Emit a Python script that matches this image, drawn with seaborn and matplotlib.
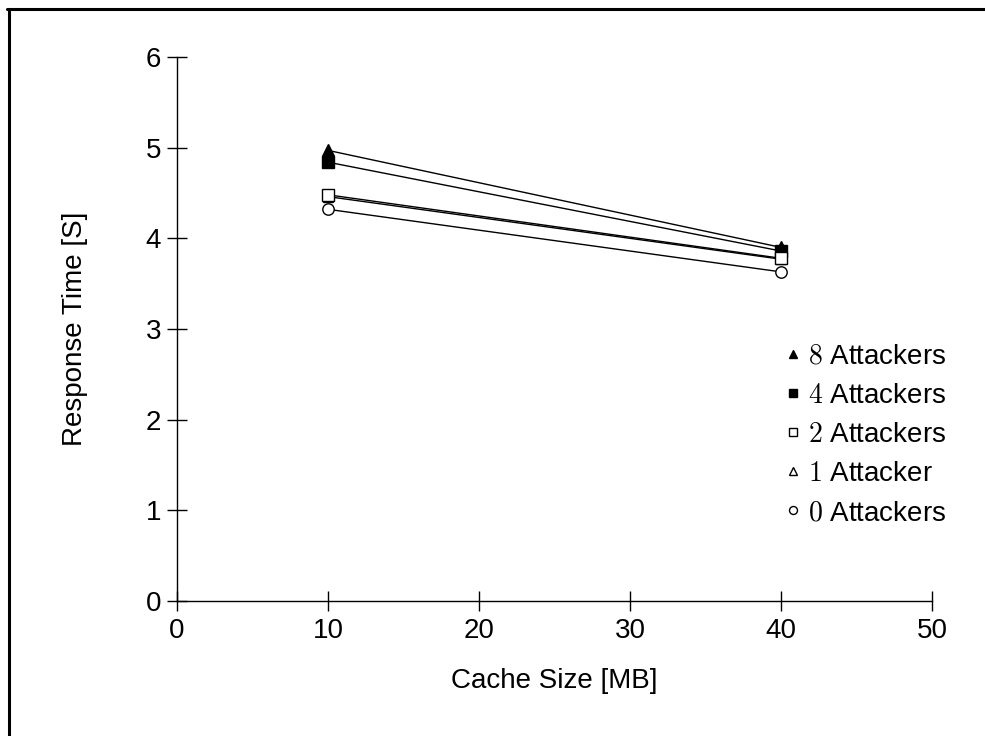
import matplotlib
matplotlib.use("Agg")
import matplotlib.pyplot as plt
import seaborn as sns
import pandas as pd
from matplotlib.lines import Line2D

cache_sizes = [10, 40]
series_names = ["$8$ Attackers", "$4$ Attackers", "$2$ Attackers", "$1$ Attacker", "$0$ Attackers"]
att8 = [4.97, 3.90]
att4 = [4.84, 3.86]
att2 = [4.48, 3.78]
att1 = [4.46, 3.77]
att0 = [4.32, 3.63]
x_ticks = [0, 10, 20, 30, 40, 50]
y_ticks = [0, 1, 2, 3, 4, 5, 6]

sns.set_theme(style="ticks")
plt.rcParams["font.family"] = ["Liberation Sans", "DejaVu Sans"]
plt.rcParams["mathtext.fontset"] = "cm"
for k in ["text.color", "axes.labelcolor", "xtick.color", "ytick.color", "axes.edgecolor"]:
    plt.rcParams[k] = "black"

FS = 20

fig = plt.figure(figsize=(9.85, 7.36), dpi=100)
ax = fig.add_axes([177/985, 1-601/736, (932-177)/985, (601-57)/736])

values = [att8, att4, att2, att1, att0]
markers = ["^", "s", "s", "^", "o"]
faces = ["black", "black", "white", "white", "white"]
sizes = [8.5, 8.2, 8.2, 7.5, 8.2]
draw_order = [0, 1, 3, 2, 4]
for i in draw_order:
    df = pd.DataFrame({"x": cache_sizes, "y": values[i]})
    sns.lineplot(data=df, x="x", y="y", ax=ax, color="black", linewidth=1.0,
                 marker=markers[i], markersize=sizes[i], markerfacecolor=faces[i],
                 markeredgecolor="black", markeredgewidth=1.0, zorder=3 + draw_order.index(i))

handles = [Line2D([], [], linestyle="none", marker=markers[i], markersize=sizes[i] * 0.7,
                  markerfacecolor=faces[i], markeredgecolor="black", markeredgewidth=1.0)
           for i in range(5)]
ax.legend(handles, series_names, loc="center right", bbox_to_anchor=(1.019, 0.305),
          frameon=False, fontsize=FS, handlelength=0.5, handletextpad=0.3,
          labelspacing=0.47, borderaxespad=0, borderpad=0)

ax.set_xlim(0, 50)
ax.set_ylim(0, 6)
ax.set_xticks(x_ticks)
ax.set_yticks(y_ticks)
ax.tick_params(direction="inout", length=15, width=1.0, labelsize=FS, colors="black")
ax.tick_params(axis="x", pad=5)
ax.tick_params(axis="y", pad=4)
for s in ["top", "right"]:
    ax.spines[s].set_visible(False)
for s in ["left", "bottom"]:
    ax.spines[s].set_color("black")
    ax.spines[s].set_linewidth(1.0)
ax.set_xlabel("Cache Size [MB]", fontsize=FS)
ax.set_ylabel("Response Time [S]", fontsize=FS)
ax.xaxis.set_label_coords(0.5, (601 - 668) / 544)
ax.yaxis.set_label_coords((88 - 177) / 755, 0.5)

fig.add_artist(Line2D([8.5/985, 8.5/985], [0, 1 - 8.5/736], transform=fig.transFigure, color="black", linewidth=2.2))
fig.add_artist(Line2D([8.5/985 - 1.1/985, 1], [1 - 8.5/736, 1 - 8.5/736], transform=fig.transFigure, color="black", linewidth=2.2))

fig.savefig("out.png", dpi=100, facecolor="white")
